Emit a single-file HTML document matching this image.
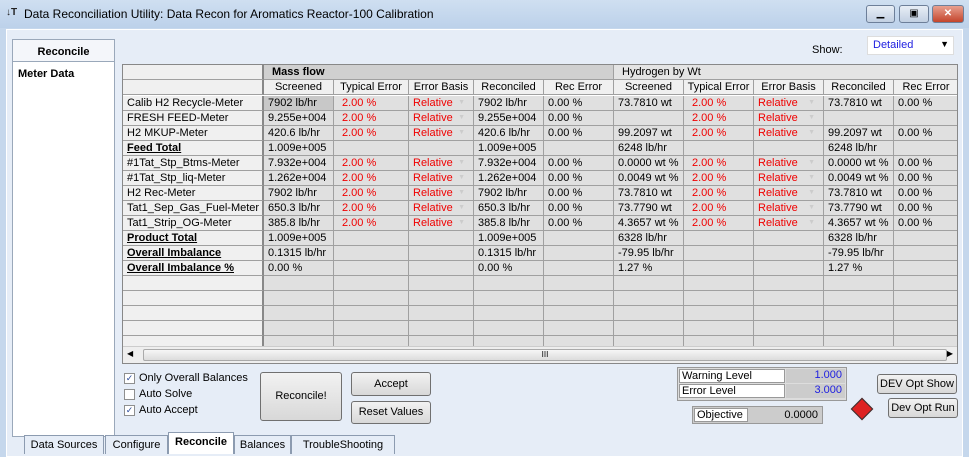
<!DOCTYPE html>
<html><head><meta charset="utf-8">
<style>
*{box-sizing:border-box}
body{margin:0;width:969px;height:457px;overflow:hidden;background:#c5d7ec;font-family:"Liberation Sans",sans-serif;font-size:11px;position:relative}
.abs{position:absolute}
#title{left:0;top:0;width:969px;height:28px;background:linear-gradient(#cfdff1,#bcd1ea)}
#title span{position:absolute;left:24px;top:7px;font-size:12px;color:#000}
.wbtn{top:5px;height:18px;border:1px solid #6d7f99;border-radius:3px;background:linear-gradient(#e8eef6,#c2d0e2);font-size:10px;text-align:center;line-height:16px}
#body{left:6px;top:29px;width:957px;height:428px;background:#e6edf7;border:1px solid #fff}
#leftpanel{left:12px;top:39px;width:103px;height:398px;background:#fff;border:1px solid #9aa8ba}
#grid{left:122px;top:64px;width:836px;height:300px;background:#fff;border:1px solid #888;overflow:hidden}
.cell{position:absolute;height:15px;line-height:14px;border-right:1px solid #a0a0a0;border-bottom:1px solid #a0a0a0;padding-left:4px;white-space:nowrap;overflow:hidden;font-size:11px}
.btn{border:1px solid #707070;border-radius:3px;background:linear-gradient(#f2f2f2,#d8d8d8);text-align:center;font-size:11px}
.tab{top:435px;height:19px;border:1px solid #8c9bb0;border-bottom:none;background:#e6edf7;font-size:11px;text-align:center;line-height:18px}
.cb{width:11px;height:11px;border:1px solid #8e8f8f;background:#fff;font-size:9px;line-height:9px;text-align:center;color:#2a4a9a}
.arr{position:absolute;right:8px;top:0;color:#ccc;font-size:7px}
</style></head><body>
<div id="title" class="abs"><span style="left:6px;font-weight:bold;color:#222;font-size:10px">↓T</span><span>Data Reconciliation Utility: Data Recon for Aromatics Reactor-100 Calibration</span></div>
<div class="abs wbtn" style="left:866px;width:29px">▁</div>
<div class="abs wbtn" style="left:899px;width:30px">▣</div>
<div class="abs wbtn" style="left:932px;width:32px;background:linear-gradient(#e8a08f,#c4452c);color:#fff;font-weight:bold">✕</div>
<div id="body" class="abs"></div>
<div id="leftpanel" class="abs">
 <div style="height:22px;border-bottom:1px solid #9aa8ba;text-align:center;font-weight:bold;line-height:24px;background:#f4f6fa">Reconcile</div>
 <div style="padding:6px 5px;font-weight:bold">Meter Data</div>
</div>
<div class="abs" style="left:812px;top:44px;font-size:11px">Show:</div>
<div class="abs" style="left:867px;top:36px;width:87px;height:19px;background:#fff;border:1px solid #ddd"><span style="position:absolute;left:5px;top:2px;color:#2020e0">Detailed</span><span style="position:absolute;right:4px;top:2px;font-size:9px">▼</span></div>
<div id="grid" class="abs"></div>
<div class="abs" style="left:123px;top:346px;width:834px;height:17px;background:#eee;border-top:1px solid #ccc">
 <span style="position:absolute;left:4px;top:2px;font-size:8px">◀</span>
 <div style="position:absolute;left:20px;top:2px;width:804px;height:12px;border:1px solid #aaa;border-radius:2px;background:linear-gradient(#f6f6f6,#dcdcdc);text-align:center;font-size:8px;line-height:10px">III</div>
 <span style="position:absolute;right:4px;top:2px;font-size:8px">▶</span>
</div>
<div class="abs cb" style="left:124px;top:373px">✓</div>
<div class="abs" style="left:139px;top:372px">Only Overall Balances</div>
<div class="abs cb" style="left:124px;top:389px"></div>
<div class="abs" style="left:139px;top:388px">Auto Solve</div>
<div class="abs cb" style="left:124px;top:405px">✓</div>
<div class="abs" style="left:139px;top:404px">Auto Accept</div>
<div class="abs btn" style="left:260px;top:372px;width:82px;height:49px;line-height:47px">Reconcile!</div>
<div class="abs btn" style="left:351px;top:372px;width:80px;height:24px;line-height:22px">Accept</div>
<div class="abs btn" style="left:351px;top:401px;width:80px;height:23px;line-height:21px">Reset Values</div>
<div class="abs" style="left:677px;top:367px;width:170px;height:34px;background:#ddd;border:1px solid #999">
 <div style="position:absolute;left:1px;top:1px;width:106px;height:14px;background:#fff;border:1px solid #999;padding-left:2px;line-height:12px">Warning Level</div>
 <div style="position:absolute;left:108px;top:1px;width:59px;height:14px;background:#ccc;text-align:right;padding-right:3px;color:#2020e0;line-height:13px">1.000</div>
 <div style="position:absolute;left:1px;top:16px;width:106px;height:14px;background:#fff;border:1px solid #999;padding-left:2px;line-height:12px">Error Level</div>
 <div style="position:absolute;left:108px;top:16px;width:59px;height:14px;background:#ccc;text-align:right;padding-right:3px;color:#2020e0;line-height:13px">3.000</div>
</div>
<div class="abs" style="left:692px;top:406px;width:131px;height:18px;background:#ccc;border:1px solid #999">
 <div style="position:absolute;left:1px;top:1px;width:54px;height:14px;background:#fff;border:1px solid #999;padding-left:2px;line-height:12px">Objective</div>
 <div style="position:absolute;right:4px;top:2px">0.0000</div>
</div>
<div class="abs" style="left:854px;top:401px;width:16px;height:16px;background:#d22;border:1px solid #333;transform:rotate(45deg)"></div>
<div class="abs btn" style="left:877px;top:374px;width:80px;height:20px;line-height:18px">DEV Opt Show</div>
<div class="abs btn" style="left:888px;top:398px;width:70px;height:20px;line-height:18px">Dev Opt Run</div>
<div class="abs tab" style="left:24px;width:80px">Data Sources</div>
<div class="abs tab" style="left:105px;width:63px">Configure</div>
<div class="abs tab" style="left:168px;top:432px;height:22px;width:66px;background:#fff;font-weight:bold">Reconcile</div>
<div class="abs tab" style="left:234px;width:57px">Balances</div>
<div class="abs tab" style="left:291px;width:104px">TroubleShooting</div>
<script>
const colEdges=[0,141,211,286,351,421,491,561,631,701,771,836];
const colHeads=["","Screened","Typical Error","Error Basis","Reconciled","Rec Error","Screened","Typical Error","Error Basis","Reconciled","Rec Error"];
const rowLabels=["Calib H2 Recycle-Meter","FRESH FEED-Meter","H2 MKUP-Meter","Feed Total","#1Tat_Stp_Btms-Meter","#1Tat_Stp_liq-Meter","H2 Rec-Meter","Tat1_Sep_Gas_Fuel-Meter","Tat1_Strip_OG-Meter","Product Total","Overall Imbalance","Overall Imbalance %"];
const boldRows=[3,9,10,11];
const rowData=[
["7902 lb/hr","2.00 %","Relative","7902 lb/hr","0.00 %","73.7810 wt","2.00 %","Relative","73.7810 wt","0.00 %"],
["9.255e+004","2.00 %","Relative","9.255e+004","0.00 %","","2.00 %","Relative","",""],
["420.6 lb/hr","2.00 %","Relative","420.6 lb/hr","0.00 %","99.2097 wt","2.00 %","Relative","99.2097 wt","0.00 %"],
["1.009e+005","","","1.009e+005","","6248 lb/hr","","","6248 lb/hr",""],
["7.932e+004","2.00 %","Relative","7.932e+004","0.00 %","0.0000 wt %","2.00 %","Relative","0.0000 wt %","0.00 %"],
["1.262e+004","2.00 %","Relative","1.262e+004","0.00 %","0.0049 wt %","2.00 %","Relative","0.0049 wt %","0.00 %"],
["7902 lb/hr","2.00 %","Relative","7902 lb/hr","0.00 %","73.7810 wt","2.00 %","Relative","73.7810 wt","0.00 %"],
["650.3 lb/hr","2.00 %","Relative","650.3 lb/hr","0.00 %","73.7790 wt","2.00 %","Relative","73.7790 wt","0.00 %"],
["385.8 lb/hr","2.00 %","Relative","385.8 lb/hr","0.00 %","4.3657 wt %","2.00 %","Relative","4.3657 wt %","0.00 %"],
["1.009e+005","","","1.009e+005","","6328 lb/hr","","","6328 lb/hr",""],
["0.1315 lb/hr","","","0.1315 lb/hr","","-79.95 lb/hr","","","-79.95 lb/hr",""],
["0.00 %","","","0.00 %","","1.27 %","","","1.27 %",""]];
const g=document.getElementById('grid');
function cell(x,y,w,txt,bg,name){const d=document.createElement('div');d.className='cell';d.style.left=x+'px';d.style.top=y+'px';d.style.width=w+'px';d.style.background=bg;d.textContent=txt;


g.appendChild(d);return d;}
cell(0,0,141,"","#f0f0f0","group-header-blank").style.borderRight='2px solid #888';
let h=cell(141,0,350,"Mass flow","#d0d0d0","mass-flow-group-header");h.style.fontWeight='bold';h.style.paddingLeft='8px';
cell(491,0,345,"Hydrogen by Wt","#e4e4e4","hydrogen-group-header").style.paddingLeft='8px';
for(let c=0;c<11;c++){const d=cell(colEdges[c],15,colEdges[c+1]-colEdges[c],colHeads[c],"#f0f0f0","column-header-"+c);d.style.textAlign='center';d.style.paddingLeft='0';if(c==0)d.style.borderRight='2px solid #888';}
const rowH=15,top0=31;
for(let r=0;r<17;r++){const y=top0+r*rowH;
 const l=cell(0,y,141,r<rowLabels.length?rowLabels[r]:"","#f0f0f0","row-label");l.style.borderRight='2px solid #888';
 if(boldRows.includes(r)){l.style.fontWeight='bold';l.style.textDecoration='underline';}
 for(let c=1;c<11;c++){const v=r<rowData.length?rowData[r][c-1]:"";
  const bg=(r==0&&c==1)?"#c8c8c8":"#e0e0e0";
  const d=cell(colEdges[c],y,colEdges[c+1]-colEdges[c],v,bg,"data-cell");
  if(c==2||c==3||c==7||c==8){d.style.color='#f00000';if(c==2||c==7)d.style.paddingLeft='8px';}
  if((c==3||c==8)&&v){const a=document.createElement('span');a.className='arr';a.textContent='▼';
   
   
   d.appendChild(a);}
 }
}
</script>
</body></html>
